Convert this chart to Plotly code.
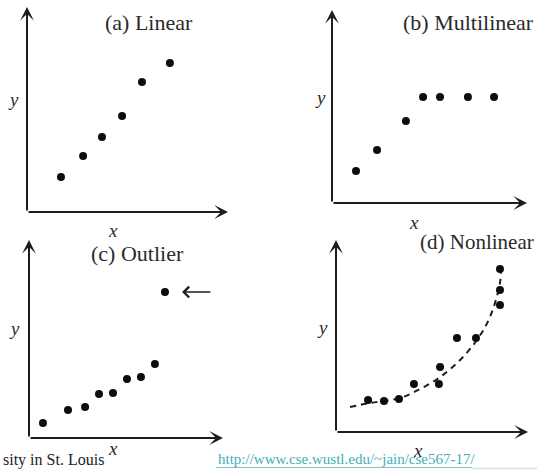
import plotly.graph_objects as go

W, H = 537, 471

# ---- data (arbitrary units, each panel axis runs 0..10) ----
a_x = [1.69, 2.79, 3.73, 4.73, 5.72, 7.11]
a_y = [1.71, 2.73, 3.66, 4.68, 6.34, 7.27]

b_x = [1.23, 2.31, 3.79, 4.67, 5.54, 6.97, 8.31]
b_y = [1.66, 2.75, 4.25, 5.49, 5.49, 5.49, 5.49]

c_x = [0.72, 2.01, 2.89, 3.61, 4.33, 5.05, 5.77, 6.49, 7.01]
c_y = [0.76, 1.41, 1.57, 2.22, 2.27, 2.98, 3.08, 3.74, 7.37]

d_x = [1.67, 2.50, 3.28, 4.06, 5.36, 5.42, 6.30, 7.29, 8.54, 8.54, 8.54]
d_y = [1.67, 1.61, 1.72, 2.50, 2.50, 3.39, 4.90, 4.90, 6.61, 7.40, 8.49]

d_curve_x = [0.73, 1.77, 3.33, 4.38, 5.42, 6.46, 7.34, 8.02, 8.54, 8.59]
d_curve_y = [1.30, 1.51, 1.77, 2.24, 2.86, 3.75, 4.79, 5.99, 7.76, 8.80]

titles = ["(a) Linear", "(b) Multilinear", "(c) Outlier", "(d) Nonlinear"]

# ---- layout geometry (pixels): origin x, origin y, x tip, y tip ----
panels = [
    (27, 212, 228, 7),
    (332, 203, 527, 10),
    (29, 438, 223, 240),
    (336, 432, 528, 240),
]
title_pos = [(149, 23, "center"), (468, 23, "center"), (137, 253, "center"), (536, 242, "right")]
title_size = [22, 22, 22, 21]
ylab_pos = [(13, 100), (320, 98), (15, 328), (322, 327)]
xlab_pos = [(113, 230), (414, 222), (113, 448), (418, 450)]

INK = "#1e1e1e"
TXT = "#2a2a2a"
SERIF = "Liberation Serif, Times New Roman, serif"


def fx(px):
    return px / W


def fy(py):
    return 1 - py / H


fig = go.Figure()
layout = dict(
    width=W, height=H,
    margin=dict(l=0, r=0, t=0, b=0),
    paper_bgcolor="white", plot_bgcolor="rgba(0,0,0,0)",
    showlegend=False,
)
annotations = []
shapes = []

series = [(a_x, a_y), (b_x, b_y), (c_x, c_y), (d_x, d_y)]

for i, ((ox, oy, tx, ty), (sx, sy)) in enumerate(zip(panels, series)):
    n = "" if i == 0 else str(i + 1)
    layout["xaxis" + n] = dict(domain=[fx(ox), fx(tx)], range=[0, 10], visible=False,
                               anchor="y" + n, fixedrange=True)
    layout["yaxis" + n] = dict(domain=[fy(oy), fy(ty)], range=[0, 10], visible=False,
                               anchor="x" + n, fixedrange=True)
    xr, yr = "x" + n, "y" + n
    if i == 3:
        fig.add_trace(go.Scatter(x=d_curve_x, y=d_curve_y, mode="lines",
                                 line=dict(color=INK, width=2, dash="6px,5px", shape="spline"),
                                 xaxis=xr, yaxis=yr, hoverinfo="skip"))
    fig.add_trace(go.Scatter(x=sx, y=sy, mode="markers",
                             marker=dict(color="#0d0d0d", size=8),
                             xaxis=xr, yaxis=yr, hoverinfo="skip"))
    # axis arrows
    for hx, hy in [(10, 0), (0, 10)]:
        annotations.append(dict(x=hx, y=hy, ax=0, ay=0, xref=xr, yref=yr,
                                axref=xr, ayref=yr, text="", showarrow=True,
                                arrowhead=3, arrowsize=1.15, arrowwidth=2,
                                arrowcolor=INK, standoff=0, startstandoff=0))
    # title
    tx_, ty_, anc = title_pos[i]
    annotations.append(dict(x=fx(tx_), y=fy(ty_), xref="paper", yref="paper",
                            text=titles[i], showarrow=False, xanchor=anc,
                            yanchor="middle",
                            font=dict(family=SERIF, size=title_size[i], color=TXT)))
    # axis labels
    lx, ly = ylab_pos[i]
    annotations.append(dict(x=fx(lx), y=fy(ly), xref="paper", yref="paper",
                            text="<i>y</i>", showarrow=False, xanchor="center",
                            yanchor="middle",
                            font=dict(family=SERIF, size=19, color=TXT)))
    lx, ly = xlab_pos[i]
    annotations.append(dict(x=fx(lx), y=fy(ly), xref="paper", yref="paper",
                            text="<i>x</i>", showarrow=False, xanchor="center",
                            yanchor="middle",
                            font=dict(family=SERIF, size=19, color=TXT)))

# outlier pointer arrow (panel c)
annotations.append(dict(x=7.89, y=7.37, ax=9.43, ay=7.37, xref="x3", yref="y3",
                        axref="x3", ayref="y3", text="", showarrow=True,
                        arrowhead=4, arrowsize=1.3, arrowwidth=1.6,
                        arrowcolor=INK, standoff=0))

# footer
annotations.append(dict(x=fx(1), y=fy(460), xref="paper", yref="paper",
                        text="sity in St. Louis", showarrow=False, xanchor="left",
                        yanchor="middle",
                        font=dict(family=SERIF, size=16, color="#222222")))
annotations.append(dict(x=fx(216), y=fy(459), xref="paper", yref="paper",
                        text="http://www.cse.wustl.edu/~jain/cse567-17/", showarrow=False,
                        xanchor="left", yanchor="middle",
                        font=dict(family=SERIF, size=15, color="#45adb5")))
shapes.append(dict(type="line", xref="paper", yref="paper",
                   x0=fx(216), x1=fx(472), y0=fy(467.5), y1=fy(467.5),
                   line=dict(color="#7cc4cc", width=1)))
shapes.append(dict(type="line", xref="paper", yref="paper",
                   x0=fx(472), x1=fx(537), y0=fy(468.5), y1=fy(468.5),
                   line=dict(color="#cfe2f2", width=1.5)))

layout["annotations"] = annotations
layout["shapes"] = shapes
fig.update_layout(**layout)

fig.write_html("out.html", config={"displayModeBar": False},
               post_script="document.body.style.margin='0';document.body.style.overflow='hidden';")
